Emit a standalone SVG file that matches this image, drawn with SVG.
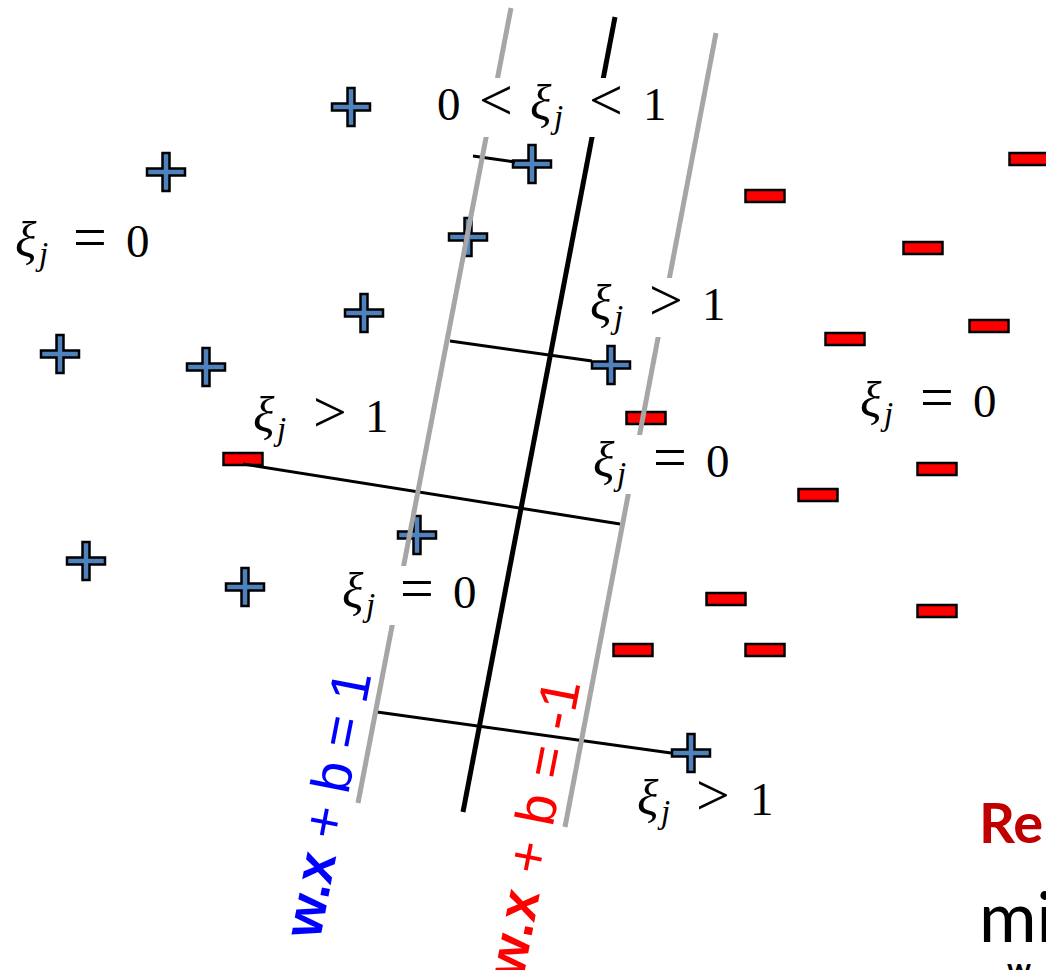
<svg xmlns="http://www.w3.org/2000/svg" xmlns:xlink="http://www.w3.org/1999/xlink" width="1046" height="970" viewBox="0 0 1046 970">
<style>
.plus{fill:#4F81BD;stroke:#000;stroke-width:2.5;stroke-linejoin:miter}
.minus{fill:#FF0000;stroke:#000;stroke-width:2.5}
.main{stroke:#000;stroke-width:5;fill:none}
.margin{stroke:#A6A6A6;stroke-width:5;fill:none}
.slack{stroke:#000;stroke-width:3;fill:none}
.bg{fill:#fff}
.m{font-family:"Liberation Serif","Times New Roman",serif;font-size:47px;fill:#000}
.xi{font-style:italic;font-size:50px}
.j{font-style:italic;font-size:33px}
.rel{font-size:60px}
.eq{font-family:"Liberation Sans",Arial,sans-serif;font-size:55px}
.b{font-weight:bold}
</style>
<defs>
<path id="plusShape" class="plus" d="M-19,-3.5H-3.5V-19H3.5V-3.5H19V3.5H3.5V19H-3.5V3.5H-19Z"/>
<rect id="minusShape" class="minus" x="-19.5" y="-6" width="39" height="12"/>
</defs>
<rect width="1046" height="970" fill="#fff"/>

<g id="points">
<g id="p1"><use xlink:href="#plusShape" href="#plusShape" transform="translate(351,107)"/></g>
<g id="p2"><use xlink:href="#plusShape" href="#plusShape" transform="translate(166,172)"/></g>
<g id="p3"><use xlink:href="#plusShape" href="#plusShape" transform="translate(532,164)"/></g>
<g id="p4"><use xlink:href="#plusShape" href="#plusShape" transform="translate(468,237)"/></g>
<g id="p5"><use xlink:href="#plusShape" href="#plusShape" transform="translate(364,313)"/></g>
<g id="p6"><use xlink:href="#plusShape" href="#plusShape" transform="translate(60,354)"/></g>
<g id="p7"><use xlink:href="#plusShape" href="#plusShape" transform="translate(206,367)"/></g>
<g id="p8"><use xlink:href="#plusShape" href="#plusShape" transform="translate(611,365)"/></g>
<g id="p9"><use xlink:href="#plusShape" href="#plusShape" transform="translate(417,535)"/></g>
<g id="p10"><use xlink:href="#plusShape" href="#plusShape" transform="translate(86,561)"/></g>
<g id="p11"><use xlink:href="#plusShape" href="#plusShape" transform="translate(245,587)"/></g>
<g id="p12"><use xlink:href="#plusShape" href="#plusShape" transform="translate(691,753)"/></g>

<g id="n1"><use xlink:href="#minusShape" href="#minusShape" transform="translate(1029,159)"/></g>
<g id="n2"><use xlink:href="#minusShape" href="#minusShape" transform="translate(765,196)"/></g>
<g id="n3"><use xlink:href="#minusShape" href="#minusShape" transform="translate(923,248)"/></g>
<g id="n4"><use xlink:href="#minusShape" href="#minusShape" transform="translate(845,339)"/></g>
<g id="n5"><use xlink:href="#minusShape" href="#minusShape" transform="translate(989,326)"/></g>
<g id="n6"><use xlink:href="#minusShape" href="#minusShape" transform="translate(646,418)"/></g>
<g id="n7"><use xlink:href="#minusShape" href="#minusShape" transform="translate(937,469)"/></g>
<g id="n8"><use xlink:href="#minusShape" href="#minusShape" transform="translate(818,495)"/></g>
<g id="n9"><use xlink:href="#minusShape" href="#minusShape" transform="translate(726,599)"/></g>
<g id="n10"><use xlink:href="#minusShape" href="#minusShape" transform="translate(937,611)"/></g>
<g id="n11"><use xlink:href="#minusShape" href="#minusShape" transform="translate(633,650)"/></g>
<g id="n12"><use xlink:href="#minusShape" href="#minusShape" transform="translate(765,650)"/></g>
<g id="n13"><use xlink:href="#minusShape" href="#minusShape" transform="translate(243,459)"/></g>
</g>

<g id="connectors">
<line class="slack" x1="473" y1="156" x2="515" y2="162"/>
<line class="slack" x1="450" y1="341" x2="592" y2="361"/>
<line class="slack" x1="243" y1="464" x2="620" y2="524"/>
<line class="slack" x1="377" y1="712" x2="671" y2="753"/>
<line class="margin" x1="511" y1="8" x2="358" y2="803"/>
<line class="main" x1="615" y1="17" x2="463" y2="812"/>
<line class="margin" x1="716" y1="33" x2="565" y2="827"/>
</g>

<g id="labels">
<g id="l1">
<text class="m" y="257"><tspan class="xi" x="15">ξ</tspan><tspan class="j" x="39" y="265">j</tspan><tspan class="rel" x="73" y="257">=</tspan><tspan x="126" y="257">0</tspan></text>
</g>
<g id="l2">
<rect class="bg" x="430" y="78" width="245" height="59"/>
<text class="m" y="120"><tspan x="437">0</tspan><tspan class="rel" x="479">&lt;</tspan><tspan class="xi" x="530">ξ</tspan><tspan class="j" x="554" y="128">j</tspan><tspan class="rel" x="589" y="120">&lt;</tspan><tspan x="643" y="120">1</tspan></text>
</g>
<g id="l3">
<rect class="bg" x="584" y="278" width="146" height="59"/>
<text class="m" y="320"><tspan class="xi" x="590">ξ</tspan><tspan class="j" x="614" y="328">j</tspan><tspan class="rel" x="649" y="320">&gt;</tspan><tspan x="702" y="320">1</tspan></text>
</g>
<g id="l4">
<text class="m" y="432"><tspan class="xi" x="253">ξ</tspan><tspan class="j" x="277" y="440">j</tspan><tspan class="rel" x="313" y="432">&gt;</tspan><tspan x="365" y="432">1</tspan></text>
</g>
<g id="l5">
<rect class="bg" x="587" y="435" width="150" height="59"/>
<text class="m" y="477"><tspan class="xi" x="593">ξ</tspan><tspan class="j" x="617" y="485">j</tspan><tspan class="rel" x="653" y="477">=</tspan><tspan x="706" y="477">0</tspan></text>
</g>
<g id="l6">
<text class="m" y="417"><tspan class="xi" x="860">ξ</tspan><tspan class="j" x="884" y="425">j</tspan><tspan class="rel" x="920" y="417">=</tspan><tspan x="973" y="417">0</tspan></text>
</g>
<g id="l7">
<rect class="bg" x="336" y="566" width="150" height="59"/>
<text class="m" y="608"><tspan class="xi" x="342">ξ</tspan><tspan class="j" x="366" y="616">j</tspan><tspan class="rel" x="400" y="608">=</tspan><tspan x="453" y="608">0</tspan></text>
</g>
<g id="l8">
<text class="m" y="815"><tspan class="xi" x="637">ξ</tspan><tspan class="j" x="661" y="823">j</tspan><tspan class="rel" x="696" y="815">&gt;</tspan><tspan x="750" y="815">1</tspan></text>
</g>
<g id="eqPos">
<text class="eq" fill="#0000FF" transform="translate(320,940) rotate(-79)" textLength="270" lengthAdjust="spacing"><tspan class="b">w.x</tspan> + b = 1</text>
</g>
<g id="eqNeg">
<text class="eq" fill="#FF0000" transform="translate(523,980) rotate(-79)" textLength="302" lengthAdjust="spacing"><tspan class="b">w.x</tspan> + b = -1</text>
</g>
<g id="corner">
<text x="979" y="843" font-family="Lato,'Liberation Sans',sans-serif" font-weight="bold" font-size="56" fill="#C00000">Re</text>
<text x="979" y="942" font-family="Lato,'Liberation Sans',sans-serif" font-size="70" fill="#000">mi</text>
<text x="1007" y="980" font-family="Lato,'Liberation Sans',sans-serif" font-weight="bold" font-size="30" fill="#000">w</text>
</g>
</g>
</svg>
